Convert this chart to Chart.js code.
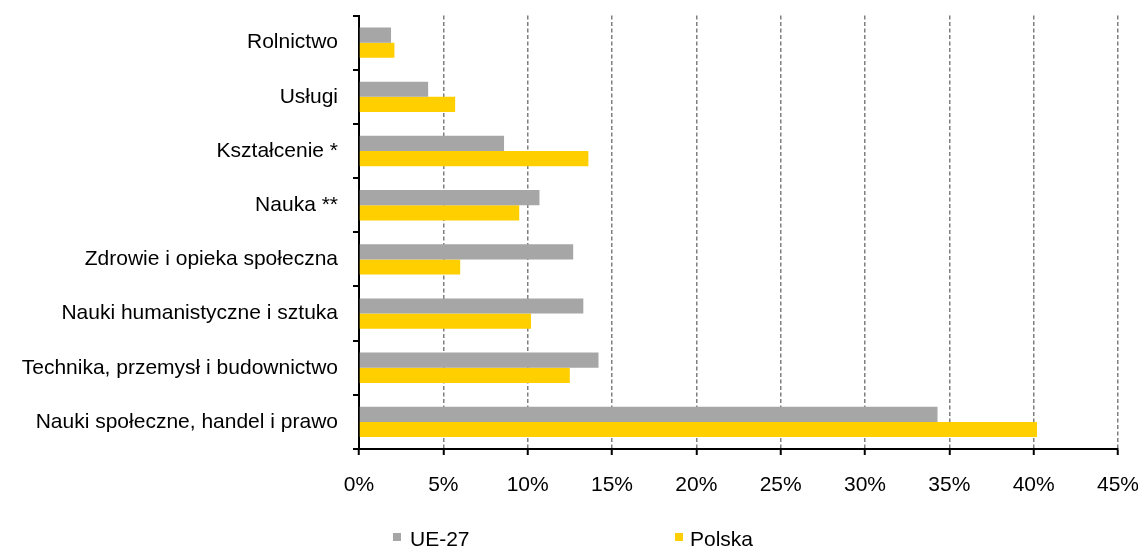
<!DOCTYPE html>
<html><head><meta charset="utf-8">
<script src="https://cdn.jsdelivr.net/npm/chart.js@4/dist/chart.umd.min.js"></script>
<style>
html,body{margin:0;padding:0;background:#fff;overflow:hidden;}
#wrap{position:relative;width:1138px;height:547px;overflow:hidden;}
canvas{display:block;position:absolute;left:0;top:-12px}
.leg{position:absolute;font:21px "Liberation Sans",Arial,sans-serif;line-height:21px;color:#000;white-space:nowrap}
.sw{position:absolute;width:8px;height:8px}
</style></head><body>
<div id="wrap"><canvas id="c" width="1157" height="559"></canvas><div id="legend"></div></div>
<script>
const categories = [
  'Rolnictwo',
  'Usługi',
  'Kształcenie *',
  'Nauka **',
  'Zdrowie i opieka społeczna',
  'Nauki humanistyczne i sztuka',
  'Technika, przemysł i budownictwo',
  'Nauki społeczne, handel i prawo'
];
const ue27   = [1.9, 4.1, 8.6, 10.7, 12.7, 13.3, 14.2, 34.3];
const polska = [2.1, 5.7, 13.6, 9.5, 6.0, 10.2, 12.5, 40.2];
const seriesNames = ['UE-27', 'Polska'];
const seriesColors = ['#A6A6A6', '#FFCF00'];
const xTickLabels = ['0%','5%','10%','15%','20%','25%','30%','35%','40%','45%'];

const FONT = {family: '"Liberation Sans", Arial, sans-serif', size: 21};

new Chart(document.getElementById('c'), {
  type: 'bar',
  data: {
    labels: categories,
    datasets: [
      {label: seriesNames[0], data: ue27, backgroundColor: seriesColors[0], barPercentage: 1, categoryPercentage: 0.56},
      {label: seriesNames[1], data: polska, backgroundColor: seriesColors[1], barPercentage: 1, categoryPercentage: 0.56}
    ]
  },
  options: {
    indexAxis: 'y',
    responsive: false,
    animation: false,
    layout: {padding: {left: 0, right: 2, top: 4, bottom: 48}},
    plugins: {legend: {display: false}, tooltip: {enabled: false}},
    scales: {
      x: {
        min: 0, max: 45,
        ticks: {stepSize: 5, font: FONT, color: '#000', padding: 18, maxRotation: 0,
                callback: (v, i) => xTickLabels[i]},
        grid: {color: c => c.index === 0 ? 'rgba(0,0,0,0)' : '#7f7f7f', lineWidth: 1.5,
               tickColor: '#000', tickWidth: 2, tickLength: 6},
        border: {color: '#000', width: 2, dash: [4, 2.5]},
        afterFit: s => { s.height = 50; }
      },
      y: {
        ticks: {font: FONT, color: '#000', padding: 15},
        grid: {offset: true, drawOnChartArea: false, color: '#000', lineWidth: 2, tickLength: 6},
        border: {color: '#000', width: 2},
        afterFit: s => { s.width = 359; }
      }
    }
  }
});

// legend (HTML)
const legendPos = [{box: 393, text: 410}, {box: 675, text: 690}];
const lg = document.getElementById('legend');
seriesNames.forEach((n, i) => {
  const sw = document.createElement('div');
  sw.className = 'sw';
  sw.style.left = legendPos[i].box + 'px';
  sw.style.top = '533px';
  sw.style.background = seriesColors[i];
  lg.appendChild(sw);
  const t = document.createElement('div');
  t.className = 'leg';
  t.style.left = legendPos[i].text + 'px';
  t.style.top = '528px';
  t.textContent = n;
  lg.appendChild(t);
});
</script>
</body></html>
